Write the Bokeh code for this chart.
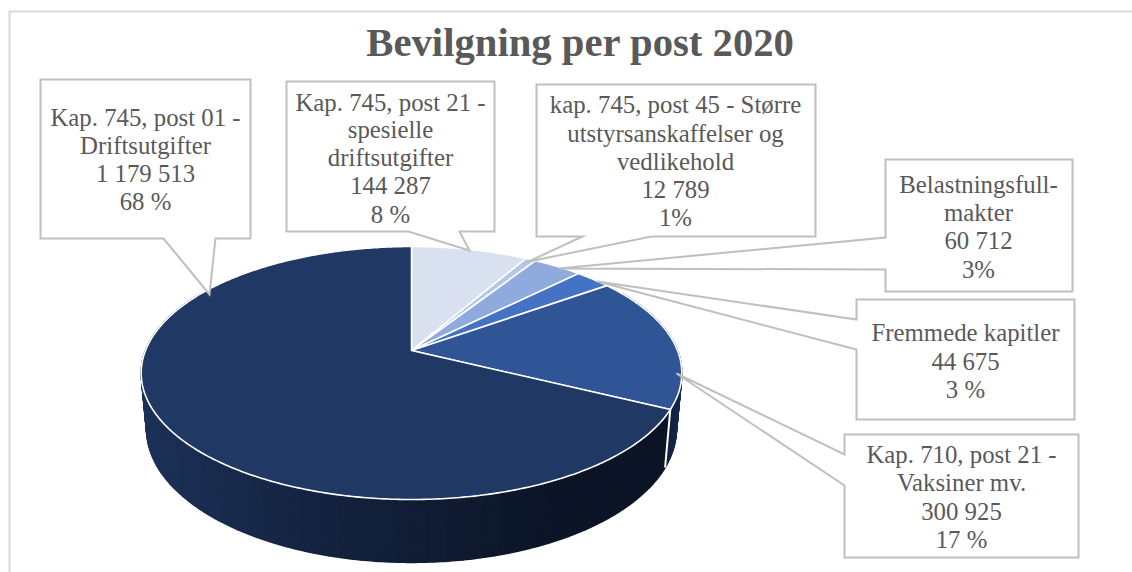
import numpy as np
from bokeh.plotting import figure
from bokeh.models import Range1d
from bokeh.core.properties import value
from bokeh.embed import file_html
from bokeh.resources import INLINE

# ---- data, clockwise from 12 o'clock ----
title = "Bevilgning per post 2020"
names = [
    ["Kap. 745, post 21 -", "spesielle", "driftsutgifter"],
    ["kap. 745, post 45 - Større", "utstyrsanskaffelser og", "vedlikehold"],
    ["Belastningsfull-", "makter"],
    ["Fremmede kapitler"],
    ["Kap. 710, post 21 -", "Vaksiner mv."],
    ["Kap. 745, post 01 -", "Driftsutgifter"],
]
values = [144287, 12789, 60712, 44675, 300925, 1179513]
percent_labels = ["8 %", "1%", "3%", "3 %", "17 %", "68 %"]
colors = ["#d9e0ef", "#b4c7e7", "#8faadc", "#4472c4", "#2f5597", "#1f3864"]

# ---- callout layout: box (l, t, r, b), tail base points, tip, text lines ----
boxes = [(286, 81, 494, 231), (536, 84, 815, 236), (885, 159, 1072, 291),
         (856, 299, 1074, 419), (844, 434, 1078, 557), (40, 79, 250, 238)]
tails = [("b", 408, 459, 469, 250), ("b", 582, 651, 528, 261), ("l", 237, 269, 558, 268),
         ("l", 319, 349, 597, 281), ("l", 454, 485, 676, 373), ("b", 163, 215, 209, 294)]
line_ys = [[102, 129, 157, 185, 214], [104, 133, 161, 189, 217], [184, 212, 240, 269],
           [332, 361, 389], [454, 482, 511, 539], [117, 145, 173, 201]]
text_xs = [390, 675, 978, 965, 961, 145]

FONT = "Liberation Serif"
TXT = "#595959"
EDGE = "#bfbfbf"

# ---- perspective projection of the pie disc ----
CX, CY, A, B, K = 411.0, 350.0, 266.0, 122.5, 0.178
SX, SY, D = 0.98, 1.055, 54.7


def top(th):
    u, v = np.sin(th), np.cos(th)
    w = 1 + K * v
    return CX + A * u / w, CY - B * v / w


def bottom(th):
    u, v = np.sin(th), np.cos(th)
    w = 1 + K * v
    return CX + SX * A * u / w, CY + D - SY * B * v / w


def mix(c1, c2, t):
    t = min(max(t, 0.0), 1.0)
    return "#%02x%02x%02x" % tuple(int(round(a + (b - a) * t)) for a, b in zip(c1, c2))


p = figure(width=1132, height=572, x_range=Range1d(0, 1132), y_range=Range1d(572, 0),
           output_backend="svg", toolbar_location=None, min_border=0)
p.axis.visible = False
p.grid.visible = False
p.outline_line_color = None
p.background_fill_color = "white"

# frame of the chart area
p.line([9, 9, 1132], [572, 11, 11], line_color="#d9d9d9", line_width=2)

# angular extents from the values
vals = np.array(values, dtype=float)
edges = np.concatenate([[0], np.cumsum(vals) / vals.sum() * 2 * np.pi])

# side wall as narrow strips with a horizontal gradient
xs, ys, cs = [], [], []
ths = np.linspace(np.radians(60), np.radians(300), 361)
boundary = edges[5]
for t0, t1 in zip(ths[:-1], ths[1:]):
    x0, y0 = top(t0); x1, y1 = top(t1)
    x2, y2 = bottom(t1); x3, y3 = bottom(t0)
    xm = (x2 + x3) / 2
    if t0 < boundary:
        col = mix((0x0f, 0x1d, 0x38), (0x16, 0x2c, 0x55), (xm - 660) / 18)
    elif xm > 330:
        col = mix((0x14, 0x22, 0x3e), (0x0c, 0x15, 0x26), (xm - 330) / 230)
    else:
        col = mix((0x1c, 0x31, 0x58), (0x14, 0x22, 0x3e), (xm - 146) / 184)
    xs.append([x0, x1, x2, x3]); ys.append([y0, y1, y2, y3]); cs.append(col)
p.patches(xs, ys, fill_color=cs, line_color=cs, line_width=1.5)

# wall cut between the blue slice and the dark slice
bx0, by0 = top(boundary); bx1, by1 = bottom(boundary)
p.line([bx0, bx1], [by0, by1], line_color="white", line_width=2)

# top surface
for i in range(len(values)):
    th = np.linspace(edges[i], edges[i + 1], max(3, int((edges[i + 1] - edges[i]) * 90)))
    x, y = top(th)
    p.patch(np.r_[CX, x], np.r_[CY, y], fill_color=colors[i], line_color="white",
            line_width=1.6, line_join="miter")

# callouts
for (l, t, r, b), tail in zip(boxes, tails):
    kind, s0, s1, tx, ty = tail
    if kind == "b":
        px = [l, r, r, s1, tx, s0, l]
        py = [t, t, b, b, ty, b, b]
    else:
        px = [l, r, r, l, l, tx, l]
        py = [t, t, b, b, s1, ty, s0]
    p.patch(px, py, fill_color="white", line_color=EDGE, line_width=2, line_join="miter")

# label text
tx_, ty_, tt_ = [], [], []
for i, nm in enumerate(names):
    lines = nm + [f"{values[i]:,}".replace(",", " "), percent_labels[i]]
    for s, yy in zip(lines, line_ys[i]):
        tx_.append(text_xs[i]); ty_.append(yy); tt_.append(s)
p.text(tx_, ty_, text=tt_, text_font=value(FONT), text_font_size="24.8px", text_color=TXT,
       text_align="center", text_baseline="middle")

p.text([580], [42], text=[title], text_font=value(FONT), text_font_size="40.7px",
       text_font_style="bold", text_color=TXT, text_align="center", text_baseline="middle")

open("out.html", "w").write(file_html(p, INLINE))
